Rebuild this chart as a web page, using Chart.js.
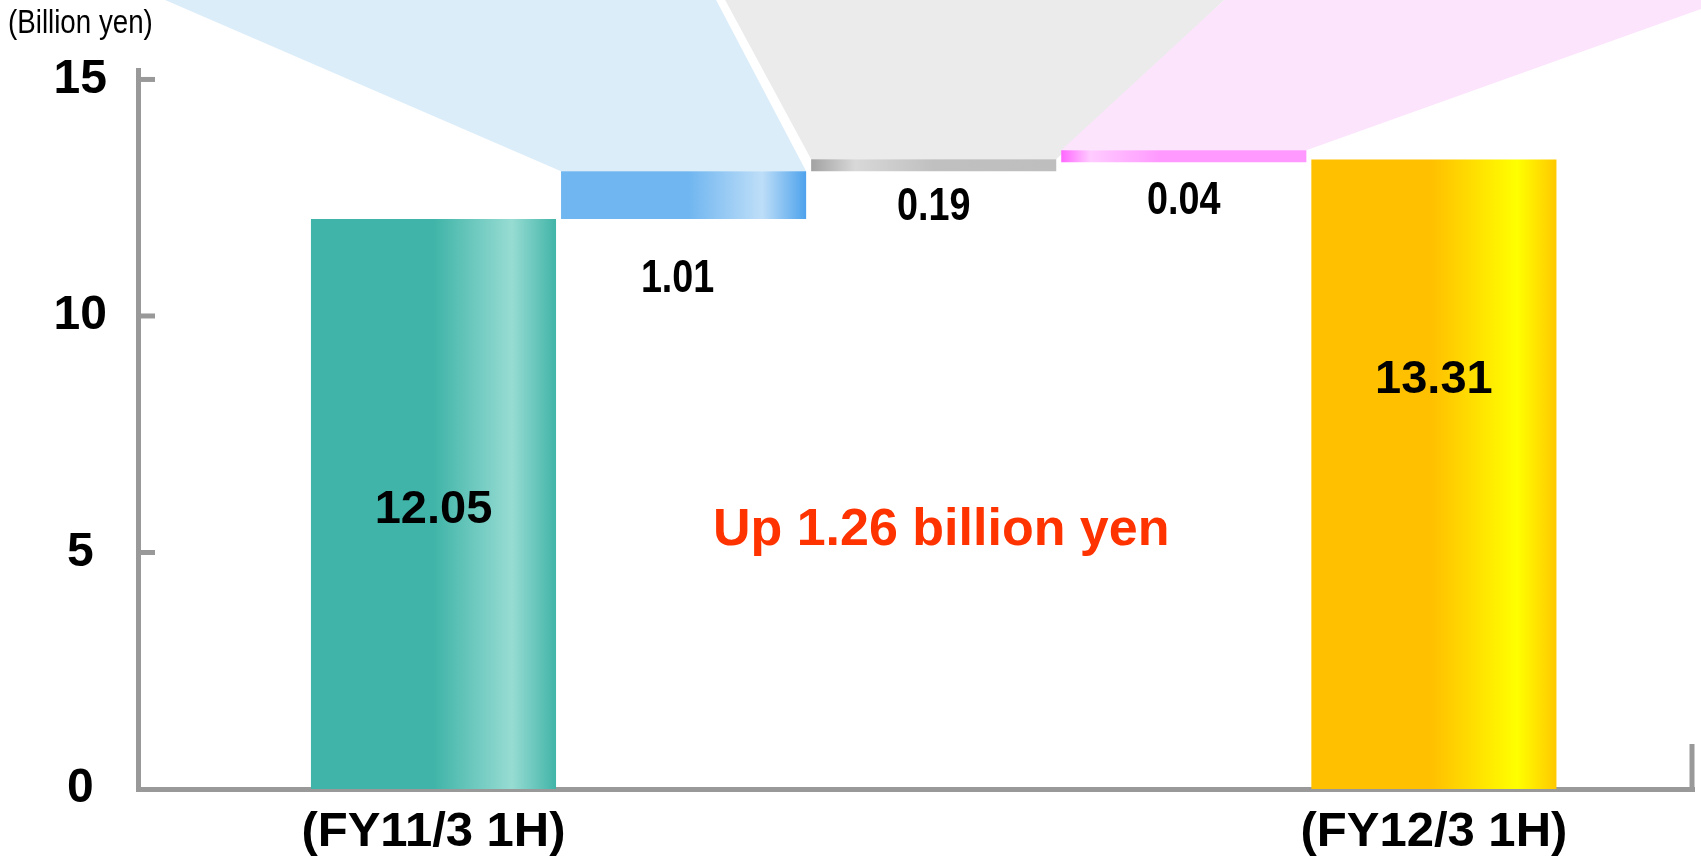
<!DOCTYPE html>
<html>
<head>
<meta charset="utf-8">
<script src="https://cdn.jsdelivr.net/npm/chart.js@4.4.0/dist/chart.umd.min.js"></script>
<style>
    html, body { margin: 0; padding: 0; background: #fff; }
    #wrap { width: 1701px; height: 858px; position: relative; }
</style>
</head>
<body>
<div id="wrap"><canvas id="profitChart"></canvas></div>
<script>
// Data
const categories = ['(FY11/3 1H)', '', '', '', '(FY12/3 1H)'];
const barValues = [12.05, 1.01, 0.19, 0.04, 13.31];
const barKinds = ['total', 'step', 'step', 'step', 'total'];
const barLabels = ['12.05', '1.01', '0.19', '0.04', '13.31'];
const yTicks = [0, 5, 10, 15];
const unitLabel = '(Billion yen)';
const changeNote = 'Up 1.26 billion yen';

// waterfall: totals from zero, steps stacked on the running sum
let running = 0;
const ranges = barValues.map(function (v, i) {
    if (barKinds[i] === 'total') {
        running = v;
        return [0, v];
    }
    const r = [running, running + v];
    running += v;
    return r;
});

const FONT = "'Liberation Sans', Arial, sans-serif";
const AXIS_GREY = '#999999';
const BAR_PCT = 0.98;

// horizontal shading of each bar
const barShades = [
    [[0, '#40B4A8'], [0.5, '#40B4A8'], [0.82, '#97DCD3'], [1, '#42B4A8']],
    [[0, '#70B6F0'], [0.52, '#70B6F0'], [0.82, '#BEDEF8'], [1, '#4DA2EC']],
    [[0, '#A2A2A2'], [0.18, '#D8D8D8'], [0.5, '#C0C0C0'], [1, '#BEBEBE']],
    [[0, '#FF66FF'], [0.12, '#FFCCFF'], [0.4, '#FF99FF'], [1, '#FF99FF']],
    [[0, '#FFC000'], [0.49, '#FFC000'], [0.84, '#FFFF00'], [1, '#FFC800']]
];

// pale callout fans above the step bars (top x offsets from bar edges)
const callouts = [
    { index: 1, color: '#DCEDFA', topLeft: -396, topRight: -90 },
    { index: 2, color: '#EBEBEB', topLeft: -86, topRight: 168 },
    { index: 3, color: '#FDE4FD', topLeft: 163, topRight: 420 }
];

function barGradient(c) {
    const chart = c.chart;
    const xs = chart.scales.x;
    const shade = barShades[c.dataIndex];
    if (!xs || !chart.chartArea) return shade[0][1];
    const cx = xs.getPixelForValue(c.dataIndex);
    const half = (xs.getPixelForValue(1) - xs.getPixelForValue(0)) * BAR_PCT / 2;
    const g = chart.ctx.createLinearGradient(cx - half, 0, cx + half, 0);
    shade.forEach(function (s) { g.addColorStop(s[0], s[1]); });
    return g;
}

function drawText(ctx, text, x, y, font, color, squeeze, align) {
    ctx.save();
    ctx.font = font;
    ctx.fillStyle = color;
    ctx.textAlign = align || 'center';
    ctx.textBaseline = 'middle';
    ctx.translate(x, y);
    ctx.scale(squeeze, 1);
    ctx.fillText(text, 0, 0);
    ctx.restore();
}

const calloutPlugin = {
    id: 'callouts',
    beforeDatasetsDraw: function (chart) {
        const ctx = chart.ctx;
        const bars = chart.getDatasetMeta(0).data;
        ctx.save();
        callouts.forEach(function (c) {
            const el = bars[c.index];
            const left = el.x - el.width / 2;
            const right = el.x + el.width / 2;
            const top = Math.min(el.y, el.base);
            ctx.fillStyle = c.color;
            ctx.beginPath();
            ctx.moveTo(left + c.topLeft, 0);
            ctx.lineTo(right + c.topRight, 0);
            ctx.lineTo(right, top);
            ctx.lineTo(left, top);
            ctx.closePath();
            ctx.fill();
        });
        ctx.restore();
    }
};

const decorPlugin = {
    id: 'decor',
    afterDatasetsDraw: function (chart) {
        const ctx = chart.ctx;
        const area = chart.chartArea;
        const ys = chart.scales.y;
        const xs = chart.scales.x;
        const bars = chart.getDatasetMeta(0).data;

        // tick marks pointing into the plot
        ctx.save();
        ctx.strokeStyle = AXIS_GREY;
        ctx.lineWidth = 5;
        yTicks.forEach(function (v) {
            if (v === 0) return;
            const y = ys.getPixelForValue(v);
            ctx.beginPath();
            ctx.moveTo(area.left, y);
            ctx.lineTo(area.left + 17, y);
            ctx.stroke();
        });
        // short stub at right end of x axis
        ctx.beginPath();
        ctx.moveTo(area.right - 2, area.bottom - 45);
        ctx.lineTo(area.right - 2, area.bottom + 2);
        ctx.stroke();
        ctx.restore();

        // value labels
        bars.forEach(function (el, i) {
            const top = Math.min(el.y, el.base);
            const bottom = Math.max(el.y, el.base);
            if (barKinds[i] === 'total') {
                const frac = i === 0 ? 0.51 : 0.35;
                drawText(ctx, barLabels[i], el.x, top + frac * (bottom - top),
                    'bold 47px ' + FONT, '#000', 1);
            } else {
                const off = [0, 60, 36, 39][i];
                const dx = i === 1 ? -6 : 0;
                drawText(ctx, barLabels[i], el.x + dx, bottom + off,
                    'bold 46px ' + FONT, '#000', 0.82);
            }
        });

        drawText(ctx, unitLabel, 8, 24, '33px ' + FONT, '#000', 0.84, 'left');
        drawText(ctx, changeNote, xs.getPixelForValue(2.03), ys.getPixelForValue(5.47),
            'bold 52px ' + FONT, '#FF3300', 1);
    }
};

const config = {
    type: 'bar',
    data: {
        datasets: [{
            data: ranges.map(function (r, i) { return { x: i, y: r }; }),
            backgroundColor: barGradient,
            borderWidth: 0,
            borderSkipped: false,
            categoryPercentage: 1,
            barPercentage: BAR_PCT,
            minBarLength: 12
        }]
    },
    options: {
        responsive: true,
        maintainAspectRatio: false,
        animation: false,
        layout: {
            padding: { top: 70, right: 7, left: 0, bottom: 0 }
        },
        plugins: {
            legend: { display: false },
            tooltip: { enabled: false }
        },
        scales: {
            x: {
                type: 'linear',
                min: -1.1815,
                max: 5.04,
                offset: false,
                grid: { display: false, drawTicks: false, offset: false },
                border: { display: true, color: AXIS_GREY, width: 5 },
                afterBuildTicks: function (scale) {
                    scale.ticks = [{ value: 0 }, { value: 4 }];
                },
                afterFit: function (scale) { scale.height = 69; },
                ticks: {
                    callback: function (value) { return categories[value]; },
                    font: { family: FONT, size: 49, weight: 'bold' },
                    color: '#000',
                    padding: 14,
                    maxRotation: 0,
                    autoSkip: false
                }
            },
            y: {
                min: 0,
                max: 15.2,
                grid: { display: false, drawTicks: false },
                border: { display: true, color: AXIS_GREY, width: 5 },
                afterBuildTicks: function (scale) {
                    scale.ticks = yTicks.map(function (v) { return { value: v }; });
                },
                afterFit: function (scale) { scale.width = 138; },
                ticks: {
                    font: { family: FONT, size: 48, weight: 'bold' },
                    color: '#000',
                    padding: 31,
                    crossAlign: 'center'
                }
            }
        }
    },
    plugins: [calloutPlugin, decorPlugin]
};

const profitChart = new Chart(document.getElementById('profitChart'), config);
</script>
</body>
</html>
